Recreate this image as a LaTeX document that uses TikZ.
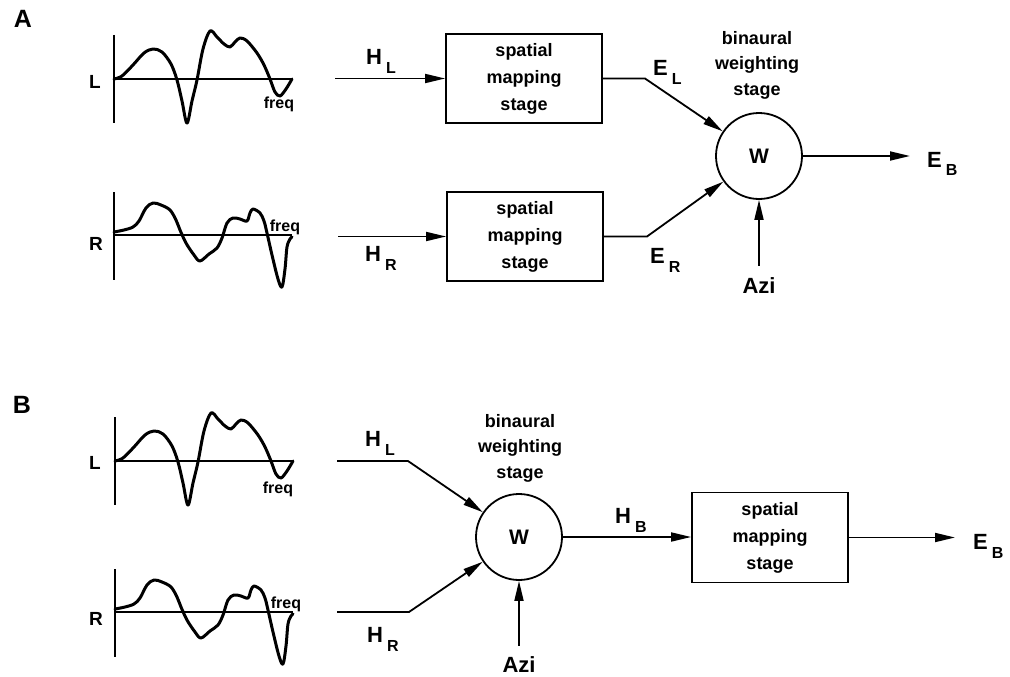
\documentclass[tikz,border=0pt]{standalone}
\usepackage{fontspec}
\setmainfont{Liberation Sans}
\usetikzlibrary{arrows.meta}
\newcommand{\lab}[2]{#1\hspace{4pt}\raisebox{-9pt}{\fontsize{16pt}{16pt}\selectfont\bfseries #2}}
\newcommand{\lwave}{%
  \draw[axisline] (0,-44) -- (0,44);
  \draw[axisline] (0,0) -- (178,0);
  \draw[wave] plot[smooth,tension=0.55] coordinates {(0,0) (8,-3) (19,-14) (30,-26) (39,-30) (48,-27) (57,-15) (63,1) (68,22) (73,44) (78,22) (83,1) (89,-30) (96,-48) (103,-42) (110,-35) (116,-32) (121,-37) (126,-41) (133,-38) (143,-26) (150,-14) (156,0) (161,13) (166,17) (172,10) (178,0)};
}
\newcommand{\rwave}{%
  \draw[axisline] (0,-43) -- (0,45);
  \draw[axisline] (0,0) -- (178,0);
  \draw[wave] plot[smooth,tension=0.55] coordinates {(0,-3) (10,-5) (19,-8) (25,-14) (32,-27) (39,-32) (47,-30) (56,-25) (62,-15) (66,-5) (72,8) (80,20) (86,26) (95,19) (103,13) (108,3) (113,-12) (119,-17) (126,-16) (133,-14) (136,-22) (139,-26) (146,-22) (150,-14) (153,-2) (158,20) (164,44) (168,52) (171,34) (173,12) (176,4) (178,2)};
}
\begin{document}
\begin{tikzpicture}[x=1pt,y=-1pt,
  axisline/.style={line width=1.4pt},
  wave/.style={line width=3pt,line join=round,line cap=round},
  arr/.style={line width=1.8pt,-{Triangle[length=20pt,width=9pt]}},
  stagebox/.style={draw,line width=1.8pt,minimum width=156pt,minimum height=89pt,align=center,inner sep=0pt,font=\fontsize{18pt}{27pt}\selectfont\bfseries},
  wcirc/.style={circle,draw,line width=1.8pt,minimum size=86pt,inner sep=0pt,font=\fontsize{21pt}{21pt}\selectfont\bfseries},
  biglab/.style={inner sep=0pt,anchor=base west,font=\fontsize{22pt}{22pt}\selectfont\bfseries},
  chan/.style={inner sep=0pt,font=\fontsize{19pt}{19pt}\selectfont\bfseries},
  freqlab/.style={inner sep=0pt,font=\fontsize{16pt}{16pt}\selectfont\bfseries},
  stagetext/.style={inner sep=0pt,align=center,font=\fontsize{18pt}{25.5pt}\selectfont\bfseries},
  panel/.style={inner sep=0pt,font=\fontsize{25pt}{25pt}\selectfont\bfseries},
  azilab/.style={inner sep=0pt,anchor=base,font=\fontsize{22pt}{22pt}\selectfont\bfseries}]
\useasboundingbox (0,0) rectangle (1010,677);
% ---------------- Panel A ----------------
\node[panel] (pa) at (23,19) {A};
\begin{scope}[shift={(114,79)}]\lwave\end{scope}
\begin{scope}[shift={(114,235)}]\rwave\end{scope}
\node[chan] (la) at (95,82) {L};
\node[chan] (ra) at (96,244) {R};
\node[freqlab] (fla) at (279,104) {freq};
\node[freqlab] (fra) at (285,227) {freq};

\node[stagebox] (sma) at (524,78.5) {spatial\\mapping\\stage};
\node[stagebox] (smb) at (525,236.5) {spatial\\mapping\\stage};
\node[wcirc] (wa) at (759,156) {W};
\node[stagetext] (bwa) at (757,65) {binaural\\weighting\\stage};

\coordinate (hlA) at (335,78.5);
\coordinate (hrA) at (338,236.5);
\coordinate (elA) at (645,78.5);
\coordinate (erA) at (647,236.5);
\coordinate (ebA) at (910,156);

\draw[arr] (hlA) -- (sma.west);
\draw[arr] (hrA) -- (smb.west);
\draw[arr] (sma.east) -- (elA) -- (wa);
\draw[arr] (smb.east) -- (erA) -- (wa);
\draw[arr] (wa.east) -- (ebA);

\node[biglab] (hla) at (366,65) {\lab{H}{L}};
\node[biglab] (hra) at (365,261) {\lab{H}{R}};
\node[biglab] (ela) at (653,76) {\lab{E}{L}};
\node[biglab] (era) at (650,263) {\lab{E}{R}};
\node[biglab] (eba) at (927,167) {\lab{E}{B}};
\node[azilab] (azia) at (759,293) {Azi};
\draw[arr] ([yshift=11pt]azia.north) -- (wa.south);

% ---------------- Panel B ----------------
\node[panel] (pb) at (22,405) {B};
\begin{scope}[shift={(115,461)}]\lwave\end{scope}
\begin{scope}[shift={(115,612)}]\rwave\end{scope}
\node[chan] (lb) at (95,463) {L};
\node[chan] (rb) at (96,619) {R};
\node[freqlab] (flb) at (278,489) {freq};
\node[freqlab] (frb) at (286,604) {freq};

\node[wcirc] (wb) at (519,537) {W};
\node[stagetext] (bwb) at (520,448) {binaural\\weighting\\stage};
\node[stagebox, minimum height=90pt] (smB) at (770,537.5) {spatial\\mapping\\stage};

\coordinate (hlB0) at (337,461);
\coordinate (hlB1) at (408,461);
\coordinate (hrB0) at (337,612);
\coordinate (hrB1) at (409,612);
\coordinate (ebB) at (955,537.5);

\draw[arr] (hlB0) -- (hlB1) -- (wb);
\draw[arr] (hrB0) -- (hrB1) -- (wb);
\draw[arr] (wb.east) -- (wb.east -| smB.west);
\draw[arr] (smB.east) -- (ebB);

\node[biglab] (hlb) at (365,446) {\lab{H}{L}};
\node[biglab] (hrb) at (367,642) {\lab{H}{R}};
\node[biglab] (hbb) at (615,523) {\lab{H}{B}};
\node[biglab] (ebb) at (973,549) {\lab{E}{B}};
\node[azilab] (azib) at (519,672) {Azi};
\draw[arr] ([yshift=10pt]azib.north) -- (wb.south);
\end{tikzpicture}
\end{document}
